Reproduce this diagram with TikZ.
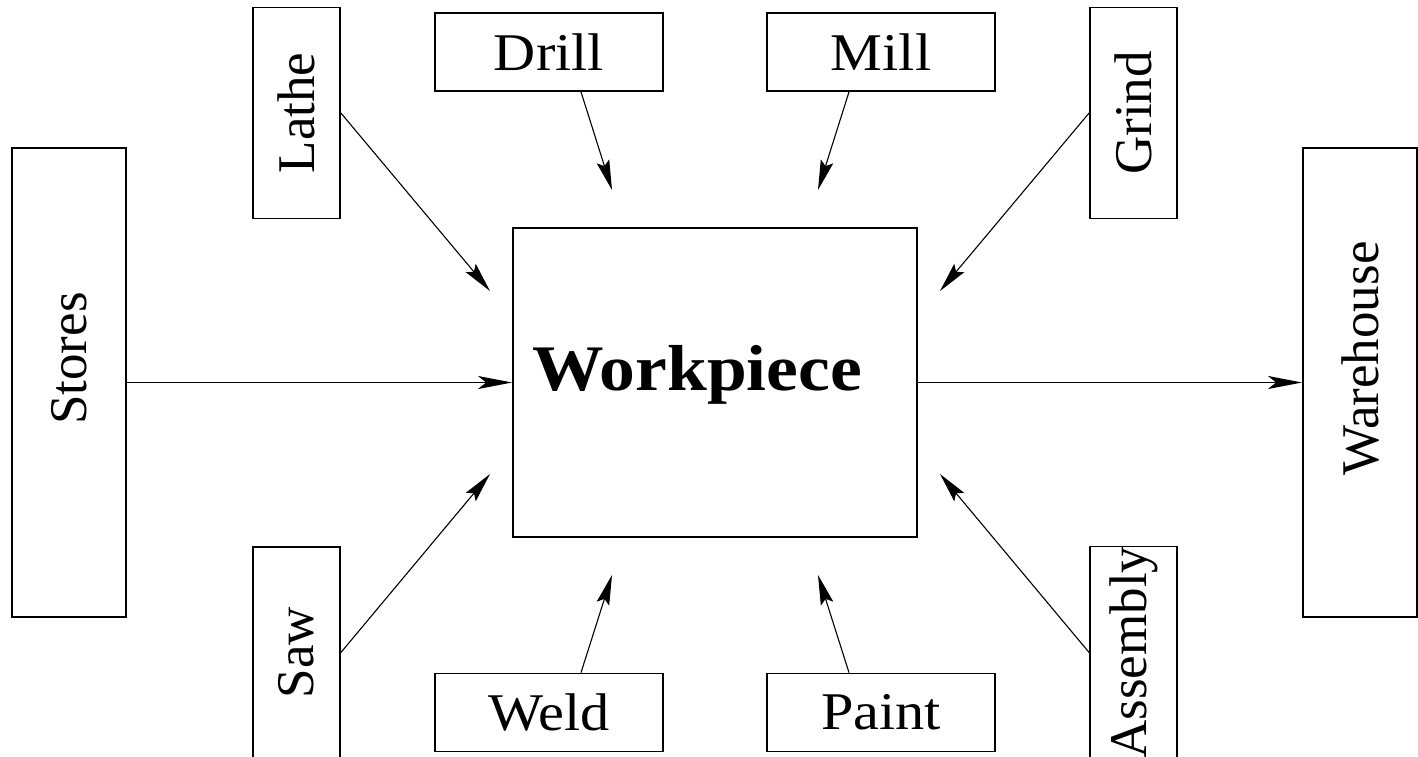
\documentclass[tikz,border=0pt]{standalone}
\usepackage{fontspec}
\setmainfont{Liberation Serif}
\newfontfamily\wideserif[FakeStretch=1.1]{Liberation Serif}
\newfontfamily\widebold[FakeStretch=1.1]{Liberation Serif}
\usetikzlibrary{arrows.meta}
\begin{document}
\begin{tikzpicture}[x=1pt,y=-1pt,
  box/.style={draw, line width=1.8pt, rectangle, inner sep=0pt, align=center},
  hbox/.style={box, minimum width=228pt, minimum height=78pt,
    font=\wideserif\fontsize{53}{60}\selectfont},
  vbox/.style={box, minimum width=87pt, minimum height=211pt,
    font=\fontsize{53}{60}\selectfont},
  endbox/.style={box, minimum width=114pt, minimum height=469pt,
    font=\fontsize{53}{60}\selectfont},
  flow/.style={line width=1.1pt, -{Stealth[length=30pt,width=13pt,inset=5pt]}},
  mainflow/.style={line width=1.6pt, -{Stealth[length=34pt,width=13pt,inset=8pt]}}]
  \fill[white] (0,0) rectangle (1418,756);
  \useasboundingbox (0,0) rectangle (1418,756);

  % central workpiece and its label
  \node[box, minimum width=404pt, minimum height=309pt] (wp) at (715,382.5) {};
  \node[anchor=base west, inner sep=0pt,
        font=\widebold\bfseries\fontsize{65}{72}\selectfont] (wplabel) at (532,390) {Workpiece};

  % source and destination
  \node[endbox] (stores) at (69,382.5) {\rotatebox{90}{\hspace*{48pt}Stores}};
  \node[endbox] (warehouse) at (1360,382.5) {\rotatebox{90}{\hspace*{48pt}Warehouse}};

  % machines around the workpiece
  \node[vbox] (lathe) at (296.5,113) {\rotatebox{90}{Lathe}};
  \node[vbox] (grind) at (1133.5,113) {\rotatebox{90}{Grind}};
  \node[vbox] (saw) at (296.5,652.5) {\rotatebox{90}{Saw}};
  \node[vbox] (assembly) at (1133.5,652.5) {\rotatebox{90}{Assembly}};
  \node[hbox] (drill) at (549,52) {Drill};
  \node[hbox] (mill) at (881,52) {Mill};
  \node[hbox] (weld) at (549,712.5) {Weld};
  \node[hbox] (paint) at (881,712.5) {Paint};

  % arrow tips stop short of the workpiece
  \coordinate (tlathe) at (490,291);
  \coordinate (tgrind) at (940,291);
  \coordinate (tsaw) at (490,474);
  \coordinate (tassembly) at (940,474);
  \coordinate (tdrill) at (612,190);
  \coordinate (tmill) at (818,190);
  \coordinate (tweld) at (612,575);
  \coordinate (tpaint) at (818,575);

  \draw[mainflow] (stores.east) -- (wp.west);
  \draw[mainflow] (wp.east) -- (warehouse.west);

  \draw[flow] (lathe.east) -- (tlathe);
  \draw[flow] (grind.west) -- (tgrind);
  \draw[flow] (saw.east) -- (tsaw);
  \draw[flow] (assembly.west) -- (tassembly);
  \draw[flow] ([xshift=32pt]drill.south) -- (tdrill);
  \draw[flow] ([xshift=-32pt]mill.south) -- (tmill);
  \draw[flow] ([xshift=32pt]weld.north) -- (tweld);
  \draw[flow] ([xshift=-32pt]paint.north) -- (tpaint);
\end{tikzpicture}
\end{document}
